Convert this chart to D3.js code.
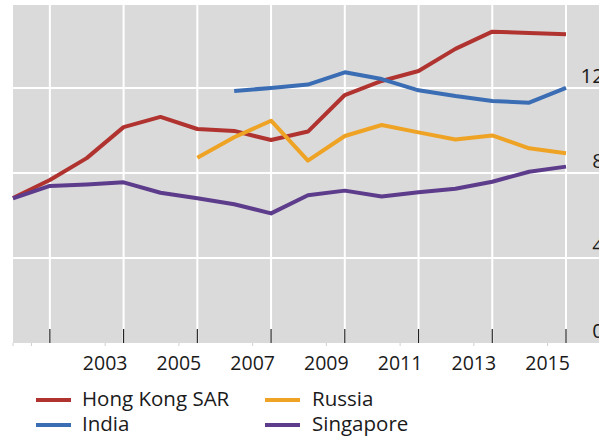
<!DOCTYPE html>
<html>
<head>
<meta charset="utf-8">
<script src="https://cdn.jsdelivr.net/npm/d3@7"></script>
<style>
  html, body { margin: 0; padding: 0; background: #fff; }
  svg { display: block; }
  text { font-family: "Open Sans", "Noto Sans", sans-serif; fill: #1a1a1a; }
</style>
</head>
<body>
<svg id="chart" width="599" height="438"></svg>
<script>
const years = d3.range(2000, 2016);
const hongKong  = [6.82, 7.67, 8.70, 10.16, 10.64, 10.07, 9.98, 9.55, 9.95, 11.67, 12.33, 12.80, 13.84, 14.65, 14.59, 14.53];
const india     = [null, null, null, null, null, null, 11.86, 12.00, 12.16, 12.74, 12.42, 11.89, 11.62, 11.39, 11.31, 12.01];
const russia    = [null, null, null, null, null, 8.72, 9.68, 10.46, 8.58, 9.74, 10.26, 9.91, 9.58, 9.77, 9.16, 8.93];
const singapore = [6.81, 7.39, 7.46, 7.56, 7.07, 6.81, 6.53, 6.10, 6.95, 7.17, 6.89, 7.09, 7.26, 7.59, 8.06, 8.30];
const seriesNames = ["Hong Kong SAR", "India", "Russia", "Singapore"];
const seriesColors = ["#B03330", "#3A6DB4", "#EFA325", "#5E3C8C"];
const xTickYears = [2001, 2003, 2005, 2007, 2009, 2011, 2013, 2015];
const xLabelYears = [2003, 2005, 2007, 2009, 2011, 2013, 2015];
const yTicks = [0, 4, 8, 12];

const seriesValues = [hongKong, india, russia, singapore];

const svg = d3.select("#chart");
const plotLeft = 13, plotRight = 599, plotTop = 5, plotBottom = 343;

const x = d3.scaleLinear().domain([2000, 2015]).range([13, 566]);
const y = d3.scaleLinear().domain([0, 16]).range([plotBottom, 3]);

// background
svg.append("rect")
  .attr("x", plotLeft).attr("y", plotTop)
  .attr("width", plotRight - plotLeft).attr("height", plotBottom - plotTop)
  .attr("fill", "#DADADA");

// horizontal gridlines
svg.append("g").selectAll("line")
  .data(yTicks.filter(d => d > 0))
  .join("line")
  .attr("x1", plotLeft).attr("x2", plotRight)
  .attr("y1", d => y(d)).attr("y2", d => y(d))
  .attr("stroke", "#fff").attr("stroke-width", 2);

// vertical gridlines
svg.append("g").selectAll("line")
  .data(xTickYears)
  .join("line")
  .attr("x1", d => x(d)).attr("x2", d => x(d))
  .attr("y1", plotTop).attr("y2", plotBottom)
  .attr("stroke", "#fff").attr("stroke-width", 2);

// major ticks (inside)
svg.append("g").selectAll("line")
  .data(xTickYears)
  .join("line")
  .attr("x1", d => x(d)).attr("x2", d => x(d))
  .attr("y1", plotBottom - 14).attr("y2", plotBottom)
  .attr("stroke", "#222").attr("stroke-width", 1.2);

// minor ticks (outside, half-year)
const minorTicks = [2000].concat(d3.range(2000.5, 2015, 2));
svg.append("g").selectAll("line")
  .data(minorTicks)
  .join("line")
  .attr("x1", d => x(d)).attr("x2", d => x(d))
  .attr("y1", plotBottom).attr("y2", plotBottom + 3)
  .attr("stroke", "#cfcfcf").attr("stroke-width", 1);

// x labels (centred half a year before the tick)
svg.append("g").selectAll("text")
  .data(xLabelYears)
  .join("text")
  .attr("x", d => x(d - 0.5))
  .attr("y", 370)
  .attr("text-anchor", "middle")
  .attr("font-size", 19.5)
  .text(d => d);

// y labels (right, above gridline)
svg.append("g").selectAll("text")
  .data(yTicks)
  .join("text")
  .attr("x", 604)
  .attr("y", d => y(d) - 5)
  .attr("text-anchor", "end")
  .attr("font-size", 20.5)
  .text(d => d);

// lines
const line = d3.line()
  .defined(d => d.v != null)
  .x(d => x(d.year))
  .y(d => y(d.v));

seriesValues.forEach((vals, i) => {
  const data = years.map((yr, j) => ({ year: yr, v: vals[j] }));
  svg.append("path")
    .datum(data)
    .attr("d", line)
    .attr("fill", "none")
    .attr("stroke", seriesColors[i])
    .attr("stroke-width", 4)
    .attr("stroke-linejoin", "round");
});

// legend
const legendPos = [
  { lx: 36, tx: 82, by: 406 },
  { lx: 36, tx: 82, by: 431 },
  { lx: 265, tx: 312, by: 406 },
  { lx: 265, tx: 312, by: 431 }
];
const lg = svg.append("g");
seriesNames.forEach((name, i) => {
  const p = legendPos[i];
  lg.append("line")
    .attr("x1", p.lx).attr("x2", p.lx + 35)
    .attr("y1", p.by - 6).attr("y2", p.by - 6)
    .attr("stroke", seriesColors[i]).attr("stroke-width", 4);
  lg.append("text")
    .attr("x", p.tx).attr("y", p.by)
    .attr("font-size", 20.5)
    .text(name);
});
</script>
</body>
</html>
